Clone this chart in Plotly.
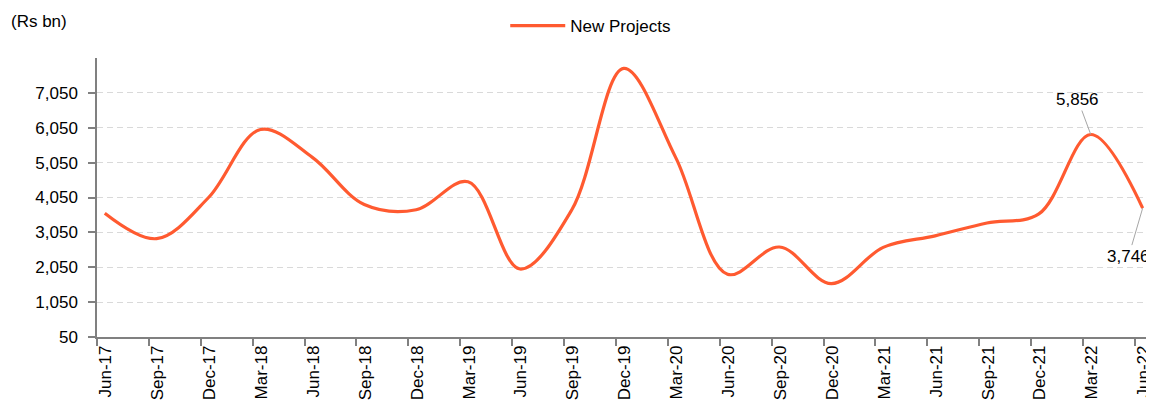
import plotly.graph_objects as go

quarters = ["Jun-17", "Sep-17", "Dec-17", "Mar-18", "Jun-18", "Sep-18", "Dec-18",
            "Mar-19", "Jun-19", "Sep-19", "Dec-19", "Mar-20", "Jun-20", "Sep-20",
            "Dec-20", "Mar-21", "Jun-21", "Sep-21", "Dec-21", "Mar-22", "Jun-22"]
new_projects = [3600, 2870, 4050, 6000, 5200, 3850, 3700,
                4500, 2000, 3700, 7750, 5200, 1850, 2630,
                1580, 2620, 2950, 3320, 3580, 5856, 3746]
y_ticks = [50, 1050, 2050, 3050, 4050, 5050, 6050, 7050]

FONT = "Liberation Sans, Arial, sans-serif"
FS = 17
LINE_COLOR = "#FF5A30"
OFFSET = 0.15        # data points sit slightly right of the category ticks
LABEL_OFFSET = 0.17  # category labels sit slightly right of the tick marks

xs = [i + OFFSET for i in range(len(quarters))]

fig = go.Figure()
fig.add_trace(go.Scatter(
    x=xs, y=new_projects, mode="lines", name="New Projects",
    line=dict(color=LINE_COLOR, width=3.2, shape="spline", smoothing=1.0),
    hoverinfo="skip", showlegend=True,
))

# data labels for the last two points
for idx, ax, ay in [(19, -13, -35), (20, -14, 48)]:
    fig.add_annotation(
        x=xs[idx], y=new_projects[idx], text=f"{new_projects[idx]:,}",
        showarrow=True, arrowhead=0, arrowwidth=1, arrowcolor="#A6A6A6",
        ax=ax, ay=ay, font=dict(family=FONT, size=FS, color="#000000"),
    )

# the page body adds an 8px margin, so the figure is sized/offset to compensate
fig.update_layout(
    width=1146, height=397,
    margin=dict(l=89, r=2, t=50, b=68),
    paper_bgcolor="white", plot_bgcolor="white",
    font=dict(family=FONT, size=FS, color="#000000"),
    showlegend=True,
    legend=dict(orientation="h", x=0.468, xanchor="center", y=1.0, yanchor="top",
                yref="container", font=dict(family=FONT, size=FS, color="#000000"),
                itemwidth=55, bgcolor="rgba(0,0,0,0)"),
    xaxis=dict(
        range=[0, 20.33], tickmode="array",
        tickvals=[i + LABEL_OFFSET for i in range(len(quarters))],
        ticktext=quarters, tickangle=-90, ticks="", ticklen=7,
        minor=dict(tickmode="array", tickvals=list(range(len(quarters))),
                   ticks="outside", ticklen=7, tickcolor="#808080", tickwidth=1.5,
                   showgrid=False),
        showline=True, linecolor="#808080",
        linewidth=1.5, showgrid=False, zeroline=False, automargin=False,
        tickfont=dict(family=FONT, size=FS, color="#000000"),
    ),
    yaxis=dict(
        range=[50, 8050], tickmode="array", tickvals=y_ticks,
        ticktext=[f"{v:,}" for v in y_ticks], ticks="outside", ticklen=7,
        tickcolor="#808080", tickwidth=1.5, showline=True, linecolor="#808080",
        linewidth=1.5, showgrid=True, gridcolor="#D9D9D9", gridwidth=1.3,
        griddash="6px,4px", zeroline=False, automargin=False,
        ticklabelstandoff=7,
        tickfont=dict(family=FONT, size=FS, color="#000000"),
    ),
)

fig.add_annotation(
    text="(Rs bn)", xref="paper", yref="paper", x=0, y=1, xshift=-88, yshift=37,
    xanchor="left", yanchor="middle", showarrow=False,
    font=dict(family=FONT, size=FS, color="#000000"),
)

fig.write_html("out.html")
